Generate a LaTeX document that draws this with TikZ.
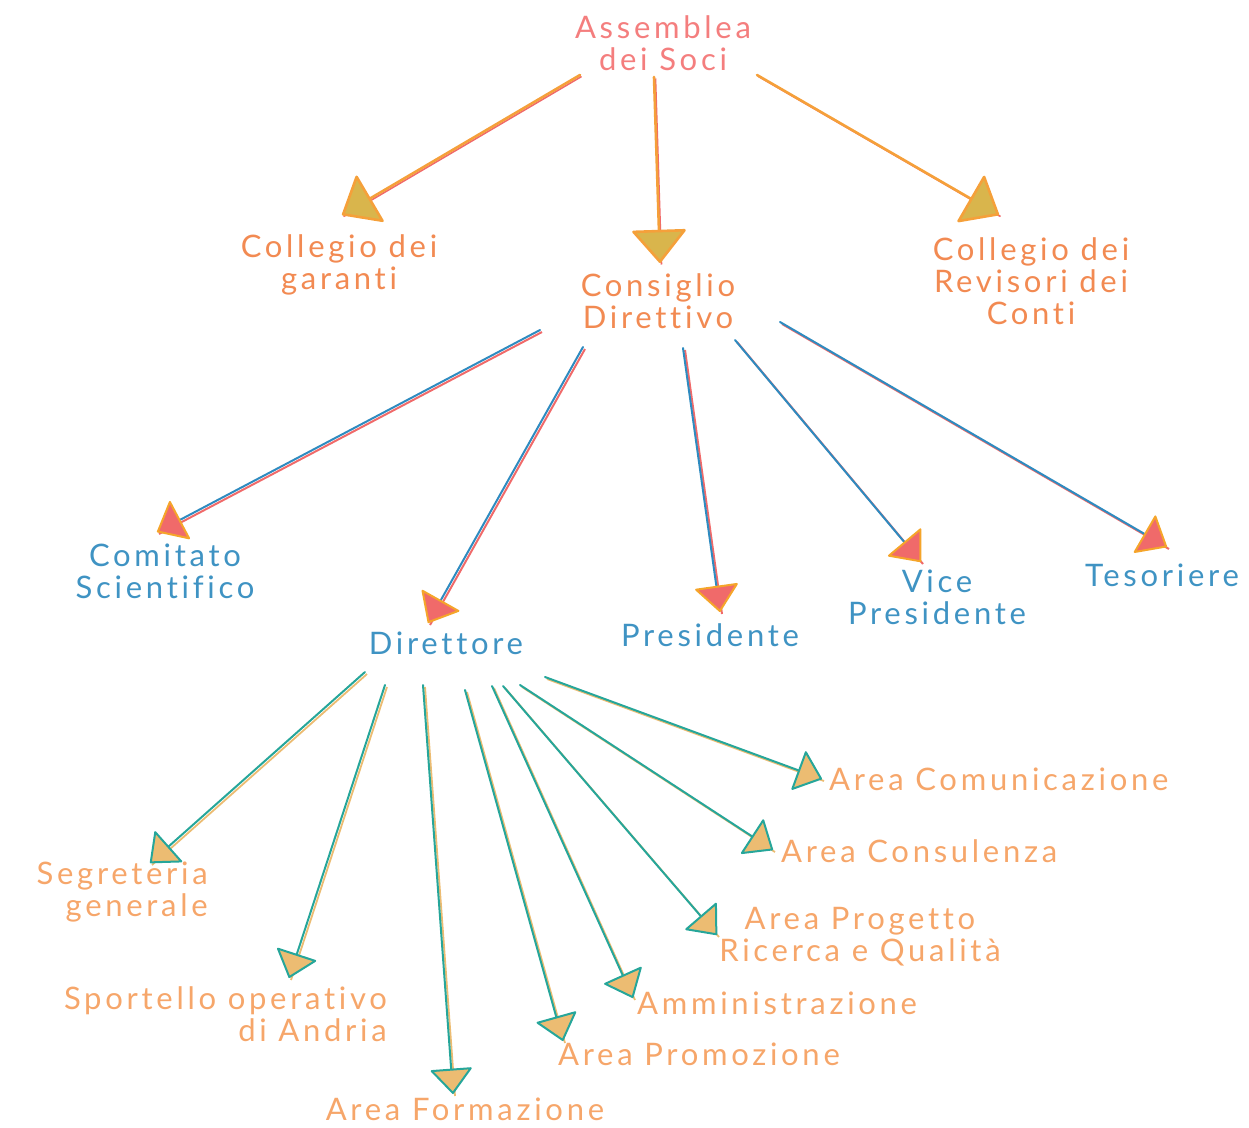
\documentclass[tikz,border=0pt]{standalone}
\usepackage{fontspec}
\setmainfont{Lato}[LetterSpace=12,Ligatures=NoCommon]
\usetikzlibrary{arrows.meta}
\definecolor{soci}{HTML}{F47E7E}
\definecolor{ltone}{HTML}{F28A52}
\definecolor{lttwo}{HTML}{3F93C3}
\definecolor{ltthree}{HTML}{F6A66A}
\definecolor{orangeline}{HTML}{F5A03A}
\definecolor{redline}{HTML}{F06A6A}
\definecolor{topfill}{HTML}{D9B54C}
\definecolor{blueline}{HTML}{2E8BC0}
\definecolor{tipedge}{HTML}{F5A52A}
\definecolor{tealline}{HTML}{26A69A}
\definecolor{tanfill}{HTML}{ECBC72}

\begin{document}
\begin{tikzpicture}[x=1pt,y=-1pt,
  every node/.style={font=\fontsize{31}{32}\selectfont,inner sep=0pt,align=center},
  topline/.style={draw=orangeline,line width=2.6pt,line cap=round,
    preaction={draw=redline,line width=1.6pt,-,transform canvas={shift={(1.5,1.5)}}},
    -{Triangle[width=56pt,length=34pt,fill=topfill,round]}},
  midline/.style={draw=blueline,line width=2pt,line cap=round,
    preaction={draw=redline,line width=2pt,-,transform canvas={shift={(2,2)}}},
    -{Triangle[width=45pt,length=27pt,color=tipedge,fill=redline,round]}},
  lowline/.style={draw=tealline,line width=2pt,line cap=round,
    preaction={draw=tanfill,line width=1.8pt,-,transform canvas={shift={(2,2)}}},
    -{Triangle[width=43pt,length=26pt,fill=tanfill,round]}}]
\useasboundingbox (0,0) rectangle (1249,1127);

\node[text=soci] (AS) at (663,43) {Assemblea\\dei Soci};
\node[text=ltone] (CG) at (339,265) {Collegio dei\\garanti};
\node[text=ltone] (CD) at (658,301) {Consiglio\\Direttivo};
\node[text=ltone] (CR) at (1031,281) {Collegio dei\\Revisori dei\\Conti};

\node[text=lttwo] (CS) at (165,571) {Comitato\\Scientifico};
\node[text=lttwo] (DI) at (446,643) {Direttore};
\node[text=lttwo] (PR) at (710,635) {Presidente};
\node[text=lttwo] (VP) at (937,597) {Vice\\Presidente};
\node[text=lttwo] (TE) at (1162,575) {Tesoriere};

\node[text=ltthree,anchor=east,align=right] (SG) at (208,892) {Segreteria\\generale};
\node[text=ltthree,anchor=east,align=right] (SO) at (387,1014) {Sportello operativo\\di Andria};
\node[text=ltthree] (AF) at (465,1109) {Area Formazione};
\node[text=ltthree,anchor=west] (AP) at (558,1054) {Area Promozione};
\node[text=ltthree,anchor=west] (AM) at (637,1003) {Amministrazione};
\node[text=ltthree] (AQ) at (860,937) {Area Progetto\\Ricerca e Qualità};
\node[text=ltthree,anchor=west] (AC) at (781,851) {Area Consulenza};
\node[text=ltthree,anchor=west] (AK) at (829,779) {Area Comunicazione};

\draw[topline] ([shift={(-83,32)}]AS.center) -- ([shift={(3,-50)}]CG.center);
\draw[topline] ([shift={(-9,34)}]AS.center) -- ([shift={(2,-38)}]CD.center);
\draw[topline] ([shift={(94,32)}]AS.center) -- ([shift={(-32,-66)}]CR.center);

\draw[midline] ([shift={(-118,29)}]CD.center) -- ([shift={(-8,-39)}]CS.center);
\draw[midline] ([shift={(-75,46)}]CD.center) -- ([shift={(-18,-20)}]DI.center);
\draw[midline] ([shift={(25,47)}]CD.center) -- ([shift={(10,-23)}]PR.center);
\draw[midline] ([shift={(77,39)}]CD.center) -- ([shift={(-16,-35)}]VP.center);
\draw[midline] ([shift={(122,21)}]CD.center) -- ([shift={(5,-28)}]TE.center);

\draw[lowline] ([shift={(-81,29)}]DI.center) -- ([shift={(-58,-29)}]SG.east);
\draw[lowline] ([shift={(-61,42)}]DI.center) -- ([shift={(-98,-36)}]SO.east);
\draw[lowline] ([shift={(-23,42)}]DI.center) -- ([shift={(-12,-15)}]AF.center);
\draw[lowline] ([shift={(19,47)}]DI.center) -- ([shift={(5,-13)}]AP.west);
\draw[lowline] ([shift={(46,43)}]DI.center) -- ([shift={(-4,-5)}]AM.west);
\draw[lowline] ([shift={(57,43)}]DI.center) -- ([shift={(-143,-2)}]AQ.center);
\draw[lowline] ([shift={(74,42)}]DI.center) -- ([shift={(-8,-1)}]AC.west);
\draw[lowline] ([shift={(99,34)}]DI.center) -- ([shift={(-7,0)}]AK.west);
\end{tikzpicture}
\end{document}
